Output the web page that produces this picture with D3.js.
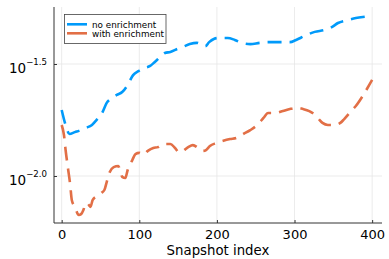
<!DOCTYPE html>
<html>
<head>
<meta charset="utf-8">
<script src="https://cdn.jsdelivr.net/npm/d3@7"></script>
<style>
  html, body { margin: 0; padding: 0; background: #fff; }
  svg { display: block; font-family: "DejaVu Sans", sans-serif; }
</style>
</head>
<body>
<svg id="chart" width="389" height="259"></svg>
<script>
// ---- data ----
const seriesNames = ["no enrichment", "with enrichment"];
const seriesColors = ["#009AFA", "#E26F46"];

const noEnrichIdx = [0, 5, 10, 17, 24, 31, 39, 45, 52, 58, 65, 71, 78, 85, 92, 99, 106, 114, 120, 127, 133, 140, 149, 156, 165, 174, 185, 190, 196, 201, 214, 223, 232, 243, 255, 266, 278, 294, 302, 313, 326, 339, 348, 356, 369, 379, 388, 400];
const noEnrichVal = [0.0197, 0.0169, 0.0154, 0.0157, 0.0160, 0.0164, 0.0169, 0.0178, 0.0191, 0.0212, 0.0223, 0.0230, 0.0237, 0.0255, 0.0282, 0.0294, 0.0303, 0.0310, 0.0323, 0.0340, 0.0354, 0.0358, 0.0369, 0.0377, 0.0388, 0.0393, 0.0380, 0.0396, 0.0409, 0.0413, 0.0413, 0.0405, 0.0393, 0.0388, 0.0393, 0.0396, 0.0396, 0.0396, 0.0405, 0.0422, 0.0440, 0.0449, 0.0462, 0.0482, 0.0497, 0.0507, 0.0513, 0.0518];

const withEnrichIdx = [0, 3, 5, 8, 11, 13, 17, 22, 25, 28, 31, 34, 37, 40, 46, 51, 55, 58, 62, 67, 73, 75, 78, 82, 85, 91, 95, 100, 105, 111, 118, 124, 131, 140, 146, 151, 156, 163, 169, 176, 182, 186, 191, 199, 207, 217, 225, 234, 243, 252, 260, 266, 275, 285, 294, 303, 311, 319, 325, 330, 336, 343, 352, 359, 364, 372, 379, 387, 394, 400];
const withEnrichVal = [0.0169, 0.0152, 0.0131, 0.0109, 0.00912, 0.00782, 0.00728, 0.00670, 0.00676, 0.00705, 0.00757, 0.00750, 0.00728, 0.00782, 0.00815, 0.00840, 0.00866, 0.00940, 0.01042, 0.01096, 0.01109, 0.01064, 0.00991, 0.00979, 0.01064, 0.01178, 0.01253, 0.01268, 0.01242, 0.01294, 0.01334, 0.01346, 0.01390, 0.01390, 0.01334, 0.01279, 0.01294, 0.01346, 0.01374, 0.01334, 0.01294, 0.01306, 0.01361, 0.01403, 0.01432, 0.01462, 0.01479, 0.01540, 0.01603, 0.01690, 0.01816, 0.01910, 0.01910, 0.01950, 0.01991, 0.02014, 0.01991, 0.01950, 0.01892, 0.01816, 0.01726, 0.01690, 0.01690, 0.01726, 0.01795, 0.01932, 0.02054, 0.02254, 0.02472, 0.02685];

const xTicks = [0, 100, 200, 300, 400];
const yTickExponents = ["-2.0", "-1.5"];
const xLabel = "Snapshot index";

// ---- layout ----
const svg = d3.select("#chart");
const plot = { left: 54, right: 382, top: 7, bottom: 223 };

const x = d3.scaleLinear().domain([-9.9, 412.7]).range([plot.left, plot.right]);
const y = d3.scaleLog().domain([Math.pow(10, -2.2098), Math.pow(10, -1.2455)]).range([plot.bottom, plot.top]);

// grid
const grid = svg.append("g").attr("stroke", "#e6e6e6").attr("stroke-width", 0.8);
xTicks.forEach(t => {
  grid.append("line").attr("x1", x(t)).attr("x2", x(t)).attr("y1", plot.top).attr("y2", plot.bottom);
});
yTickExponents.forEach(e => {
  const v = Math.pow(10, +e);
  grid.append("line").attr("x1", plot.left).attr("x2", plot.right).attr("y1", y(v)).attr("y2", y(v));
});

// series
const series = [
  { name: seriesNames[0], color: seriesColors[0], data: noEnrichIdx.map((d, i) => [d, noEnrichVal[i]]) },
  { name: seriesNames[1], color: seriesColors[1], data: withEnrichIdx.map((d, i) => [d, withEnrichVal[i]]) }
];
const line = d3.line().x(d => x(d[0])).y(d => y(d[1])).curve(d3.curveMonotoneX);
series.forEach(s => {
  svg.append("path")
    .datum(s.data)
    .attr("fill", "none")
    .attr("stroke", s.color)
    .attr("stroke-width", 2.6)
    .attr("stroke-dasharray", "14,8")
    .attr("stroke-linecap", "butt")
    .attr("d", line);
});

// axes
const axisColor = "#333";
const xAxis = d3.axisBottom(x).tickValues(xTicks).tickSize(-3).tickPadding(7).tickFormat(d3.format("d"));
const gx = svg.append("g").attr("transform", `translate(0,${plot.bottom})`).call(xAxis);
gx.select(".domain").attr("d", `M${plot.left},0H${plot.right}`).attr("stroke", axisColor).attr("stroke-width", 1);
gx.selectAll(".tick line").attr("stroke", axisColor);
gx.selectAll(".tick text").attr("font-size", 13).attr("font-family", "DejaVu Sans").attr("fill", "#000").attr("dy", "0.71em");

const yAxis = d3.axisLeft(y).tickValues(yTickExponents.map(e => Math.pow(10, +e))).tickSize(-3).tickFormat("");
const gy = svg.append("g").attr("transform", `translate(${plot.left},0)`).call(yAxis);
gy.select(".domain").attr("d", `M0,${plot.top}V${plot.bottom}`).attr("stroke", axisColor).attr("stroke-width", 1);
gy.selectAll(".tick line").attr("stroke", axisColor);

yTickExponents.forEach(e => {
  const v = Math.pow(10, +e);
  const t = svg.append("text")
    .attr("x", 47)
    .attr("y", y(v) + 8.5)
    .attr("text-anchor", "end")
    .attr("fill", "#000");
  t.append("tspan").attr("font-size", 13.5).text("10");
  t.append("tspan").attr("font-size", 8.6).attr("dy", -7.5).text("\u2212" + e.replace("-", ""));
});

// x label
svg.append("text")
  .attr("x", (plot.left + plot.right) / 2)
  .attr("y", 255)
  .attr("text-anchor", "middle")
  .attr("font-size", 13.3)
  .attr("fill", "#000")
  .text(xLabel);

// legend
const lg = svg.append("g");
lg.append("rect")
  .attr("x", 64.5).attr("y", 14.5).attr("width", 101.5).attr("height", 29)
  .attr("fill", "#fff").attr("stroke", "#444").attr("stroke-width", 0.8);
series.forEach((s, i) => {
  const yy = 24.3 + i * 9;
  lg.append("line").attr("x1", 67).attr("x2", 87).attr("y1", yy).attr("y2", yy)
    .attr("stroke", s.color).attr("stroke-width", 2.6);
  lg.append("text").attr("x", 92).attr("y", yy + 3.2)
    .attr("font-size", 8.8).attr("fill", "#000").text(s.name);
});
</script>
</body>
</html>
